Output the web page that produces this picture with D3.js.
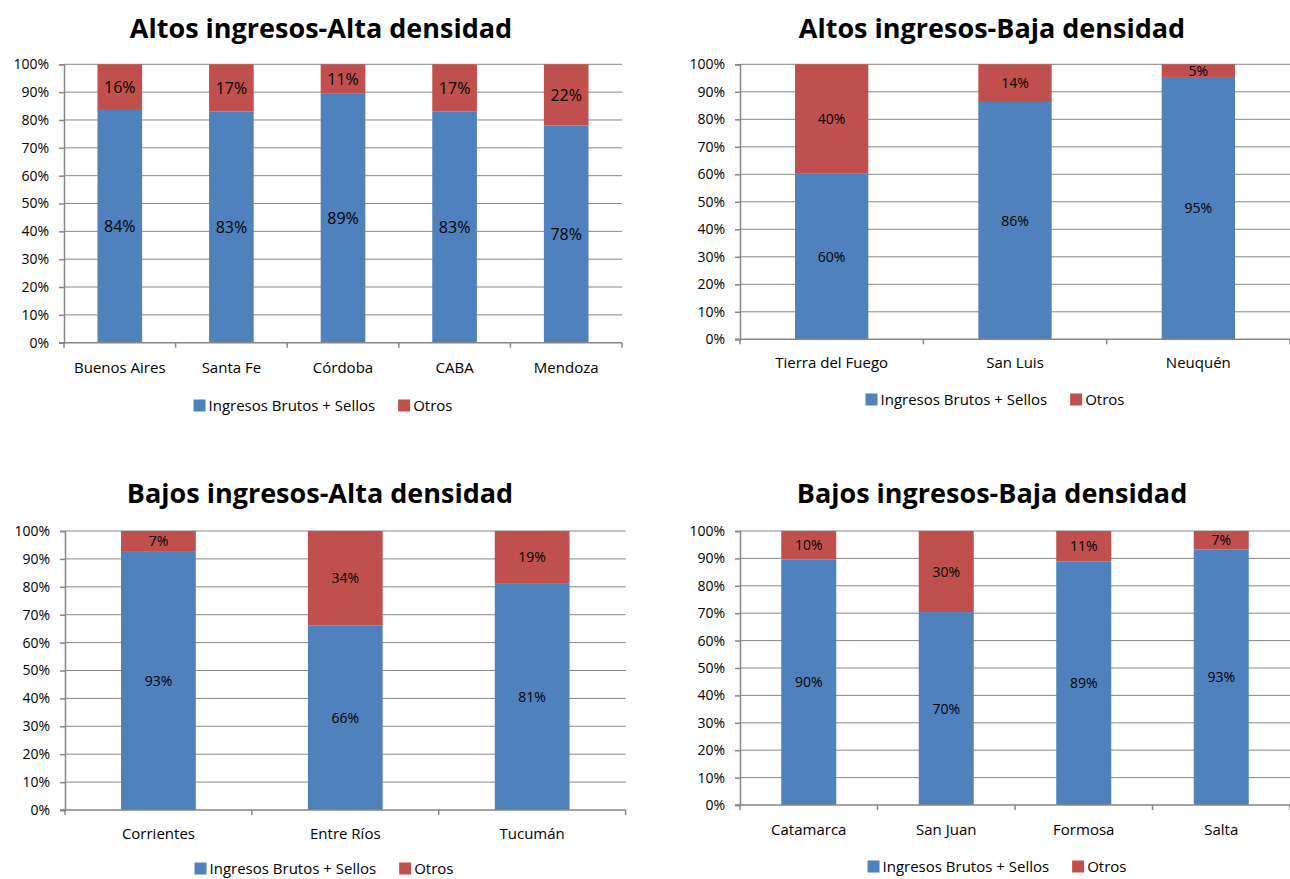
<!DOCTYPE html>
<html>
<head>
<meta charset="utf-8">
<script src="https://cdn.jsdelivr.net/npm/d3@7"></script>
<style>
  body { margin: 0; background: #fff; }
  svg { font-family: "Open Sans", sans-serif; display: block; }
</style>
</head>
<body>
<div id="chart"></div>
<script>
/* DATA */
const yTicks = [0, 10, 20, 30, 40, 50, 60, 70, 80, 90, 100];
const seriesNames = ["Ingresos Brutos + Sellos", "Otros"];
const seriesColors = ["#4f81bd", "#c0504d"];

const titles = [
  "Altos ingresos-Alta densidad",
  "Altos ingresos-Baja densidad",
  "Bajos ingresos-Alta densidad",
  "Bajos ingresos-Baja densidad"
];

const catsAltaAlta = ["Buenos Aires", "Santa Fe", "Córdoba", "CABA", "Mendoza"];
const ingresosAltaAlta = [83.6, 83.0, 89.4, 83.0, 78.0];
const otrosAltaAlta = [16.4, 17.0, 10.6, 17.0, 22.0];

const catsAltaBaja = ["Tierra del Fuego", "San Luis", "Neuquén"];
const ingresosAltaBaja = [60.2, 86.3, 95.4];
const otrosAltaBaja = [39.8, 13.7, 4.6];

const catsBajaAlta = ["Corrientes", "Entre Ríos", "Tucumán"];
const ingresosBajaAlta = [92.8, 66.2, 81.3];
const otrosBajaAlta = [7.2, 33.8, 18.7];

const catsBajaBaja = ["Catamarca", "San Juan", "Formosa", "Salta"];
const ingresosBajaBaja = [89.6, 70.4, 88.9, 93.2];
const otrosBajaBaja = [10.4, 29.6, 11.1, 6.8];

/* LAYOUT */
const width = 1290, height = 879;

const panels = [
  { title: titles[0], cats: catsAltaAlta, ib: ingresosAltaAlta, otros: otrosAltaAlta,
    left: 64, right: 622, top: 64.3, bottom: 342.7, titleX: 321, titleY: 38,
    catY: 373, legendY: 411, legendCx: 323, labelSize: 16 },
  { title: titles[1], cats: catsAltaBaja, ib: ingresosAltaBaja, otros: otrosAltaBaja,
    left: 740, right: 1290, top: 64.3, bottom: 339.3, titleX: 992, titleY: 38,
    catY: 368, legendY: 405, legendCx: 995, labelSize: 14 },
  { title: titles[2], cats: catsBajaAlta, ib: ingresosBajaAlta, otros: otrosBajaAlta,
    left: 65, right: 625.6, top: 531, bottom: 810, titleX: 320, titleY: 503,
    catY: 839, legendY: 874, legendCx: 324, labelSize: 14 },
  { title: titles[3], cats: catsBajaBaja, ib: ingresosBajaBaja, otros: otrosBajaBaja,
    left: 740, right: 1290, top: 531, bottom: 805, titleX: 992, titleY: 503,
    catY: 835, legendY: 872, legendCx: 997, labelSize: 14 }
];

const gridColor = "#868686";

const svg = d3.select("#chart")
  .append("svg")
  .attr("width", width)
  .attr("height", height);

panels.forEach(drawPanel);

function drawPanel(p) {
  const g = svg.append("g");

  const x = d3.scaleBand()
    .domain(p.cats)
    .range([p.left, p.right])
    .paddingInner(0.6)
    .paddingOuter(0.3);

  const y = d3.scaleLinear()
    .domain([0, 100])
    .range([p.bottom, p.top]);

  // title
  g.append("text")
    .attr("x", p.titleX)
    .attr("y", p.titleY)
    .attr("text-anchor", "middle")
    .attr("font-size", 27)
    .attr("font-weight", "bold")
    .attr("fill", "#000")
    .text(p.title);

  // gridlines
  g.selectAll("line.grid")
    .data(yTicks.filter(d => d > 0))
    .join("line")
    .attr("class", "grid")
    .attr("x1", p.left)
    .attr("x2", p.right)
    .attr("y1", d => y(d))
    .attr("y2", d => y(d))
    .attr("stroke", gridColor)
    .attr("stroke-width", 1);

  // y axis
  const yAxis = d3.axisLeft(y)
    .tickValues(yTicks)
    .tickFormat(d => d + "%")
    .tickSize(5)
    .tickPadding(10);

  const yg = g.append("g")
    .attr("transform", `translate(${p.left},0)`)
    .call(yAxis);
  yg.select(".domain").attr("stroke", gridColor).attr("stroke-width", 1.5);
  yg.selectAll(".tick line").attr("stroke", gridColor).attr("stroke-width", 1.5);
  yg.selectAll(".tick text")
    .attr("font-size", 14)
    .attr("font-family", "'Open Sans', sans-serif")
    .attr("fill", "#000");

  // stacked bars
  const rows = p.cats.map((c, i) => ({ cat: c, ib: p.ib[i], otros: p.otros[i] }));
  const stack = d3.stack().keys(["ib", "otros"])(rows);

  stack.forEach((layer, k) => {
    g.selectAll(`rect.s${k}`)
      .data(layer)
      .join("rect")
      .attr("class", `s${k}`)
      .attr("x", d => x(d.data.cat))
      .attr("width", x.bandwidth())
      .attr("y", d => y(d[1]))
      .attr("height", d => y(d[0]) - y(d[1]))
      .attr("fill", seriesColors[k]);

    g.selectAll(`text.l${k}`)
      .data(layer)
      .join("text")
      .attr("class", `l${k}`)
      .attr("x", d => x(d.data.cat) + x.bandwidth() / 2)
      .attr("y", d => (y(d[0]) + y(d[1])) / 2)
      .attr("dy", "0.36em")
      .attr("text-anchor", "middle")
      .attr("font-size", p.labelSize)
      .attr("fill", "#000")
      .text(d => Math.round(d[1] - d[0]) + "%");
  });

  // x axis line and ticks at category boundaries
  g.append("line")
    .attr("x1", p.left - 5)
    .attr("x2", p.right)
    .attr("y1", y(0))
    .attr("y2", y(0))
    .attr("stroke", gridColor)
    .attr("stroke-width", 1.5);

  const step = x.step();
  const bounds = d3.range(p.cats.length + 1).map(i => p.left + i * step);
  g.selectAll("line.xtick")
    .data(bounds)
    .join("line")
    .attr("class", "xtick")
    .attr("x1", d => d)
    .attr("x2", d => d)
    .attr("y1", y(0))
    .attr("y2", y(0) + 5)
    .attr("stroke", gridColor)
    .attr("stroke-width", 1.5);

  g.selectAll("text.cat")
    .data(p.cats)
    .join("text")
    .attr("class", "cat")
    .attr("x", d => x(d) + x.bandwidth() / 2)
    .attr("y", p.catY)
    .attr("text-anchor", "middle")
    .attr("font-size", 15)
    .attr("fill", "#000")
    .text(d => d);

  // legend
  const lg = g.append("g");
  let cursor = 0;
  seriesNames.forEach((name, k) => {
    lg.append("rect")
      .attr("x", cursor)
      .attr("y", p.legendY - 11.5)
      .attr("width", 12)
      .attr("height", 12)
      .attr("fill", seriesColors[k]);
    const t = lg.append("text")
      .attr("x", cursor + 15)
      .attr("y", p.legendY)
      .attr("font-size", 15)
      .attr("fill", "#000")
      .text(name);
    cursor += 15 + t.node().getComputedTextLength() + 23;
  });
  const legendW = cursor - 23;
  lg.attr("transform", `translate(${p.legendCx - legendW / 2},0)`);
}
</script>
</body>
</html>
